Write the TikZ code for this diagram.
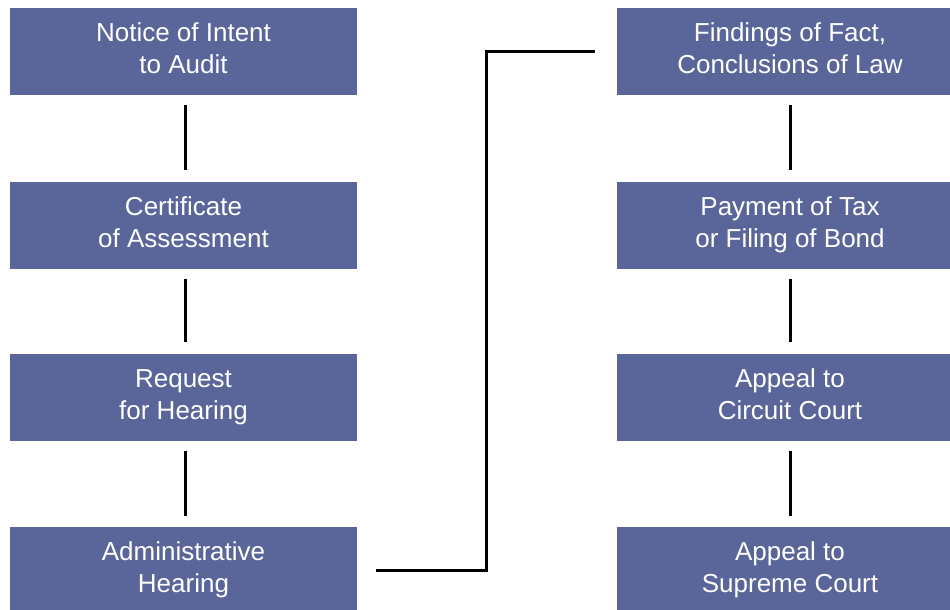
\documentclass[tikz,border=0pt]{standalone}
\usepackage{fontspec}
\setmainfont{Liberation Sans}
\definecolor{boxblue}{RGB}{90,102,153}
\newcommand{\boxtext}[2]{\raisebox{4.5pt}{\begin{tabular}{@{}c@{}}#1\\#2\end{tabular}}}
\begin{document}
\begin{tikzpicture}[x=1pt,y=-1pt,
  stepbox/.style={draw=none,fill=boxblue,text=white,minimum width=347pt,minimum height=87pt,
    inner sep=0pt,align=center,font=\fontsize{26}{32}\selectfont},
  link/.style={line width=3pt,black,shorten <=10pt,shorten >=11pt}]
\useasboundingbox[fill=white] (0,0) rectangle (950,610);
\node[stepbox] (l1) at (183.5,51.5) {\boxtext{Notice of Intent}{to Audit}};
\node[stepbox] (l2) at (183.5,225) {\boxtext{Certificate}{of Assessment}};
\node[stepbox] (l3) at (183.5,397) {\boxtext{Request}{for Hearing}};
\node[stepbox] (l4) at (183.5,570.5) {\boxtext{Administrative}{Hearing}};
\node[stepbox] (r1) at (790,51.5) {\boxtext{Findings of Fact,}{Conclusions of Law}};
\node[stepbox] (r2) at (790,225) {\boxtext{Payment of Tax}{or Filing of Bond}};
\node[stepbox] (r3) at (790,397) {\boxtext{Appeal to}{Circuit Court}};
\node[stepbox] (r4) at (790,570.5) {\boxtext{Appeal to}{Supreme Court}};
\draw[link] ([xshift=1.5pt]l1.south) -- ([xshift=1.5pt]l2.north);
\draw[link] ([xshift=1.5pt]l2.south) -- ([xshift=1.5pt]l3.north);
\draw[link] ([xshift=1.5pt]l3.south) -- ([xshift=1.5pt]l4.north);
\draw[link] (r1.south) -- (r2.north);
\draw[link] (r2.south) -- (r3.north);
\draw[link] (r3.south) -- (r4.north);
\coordinate (mid) at (486,300);
\draw[line width=3pt,black,shorten <=19pt,shorten >=21pt]
  (l4.east) -- (l4.east -| mid) -- (mid |- r1.west) -- (r1.west);
\end{tikzpicture}
\end{document}
